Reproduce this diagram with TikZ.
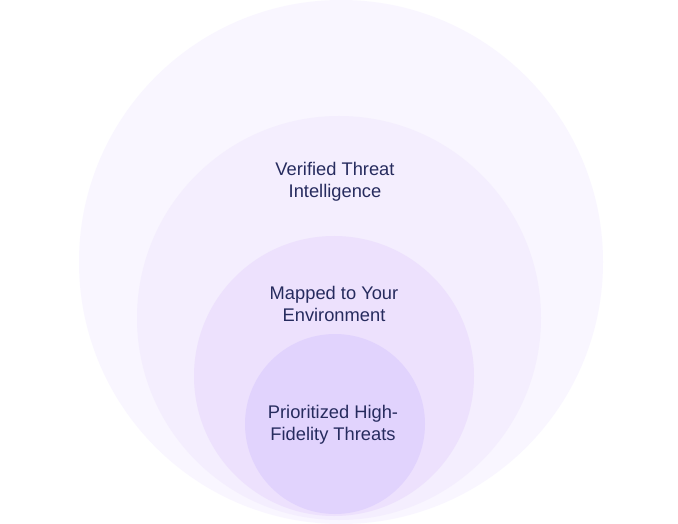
\documentclass[tikz,border=0pt]{standalone}
\usepackage{fontspec}
\setmainfont{Liberation Sans}
\usepackage{tikz}

\definecolor{ringA}{HTML}{F9F6FF}
\definecolor{ringB}{HTML}{F4EEFE}
\definecolor{ringC}{HTML}{EDE1FD}
\definecolor{ringD}{HTML}{E1D3FD}
\definecolor{inkblue}{HTML}{262B5E}

\begin{document}
\begin{tikzpicture}[x=1pt,y=-1pt]
	\useasboundingbox (0,0) rectangle (678,524);
	\fill [white] (0,0) rectangle (678,524);
	% nested rings
	\fill [ringA] (341,262) circle (262);
	\fill [ringB] (339,318) circle (202);
	\fill [ringC] (334,376) circle (140);
	\fill [ringD] (335,424) circle (90);
	\begin{scope}[every node/.style={align=center,text=inkblue,font=\fontsize{18.3}{22}\selectfont}]
	\node (V) at (335,182) {Verified Threat\\Intelligence};
	\node (M) at (334,304) {Mapped to Your\\Environment};
	\node (P) at (333,425) {Prioritized High-\\Fidelity Threats};
	\end{scope}
\end{tikzpicture}
\end{document}
